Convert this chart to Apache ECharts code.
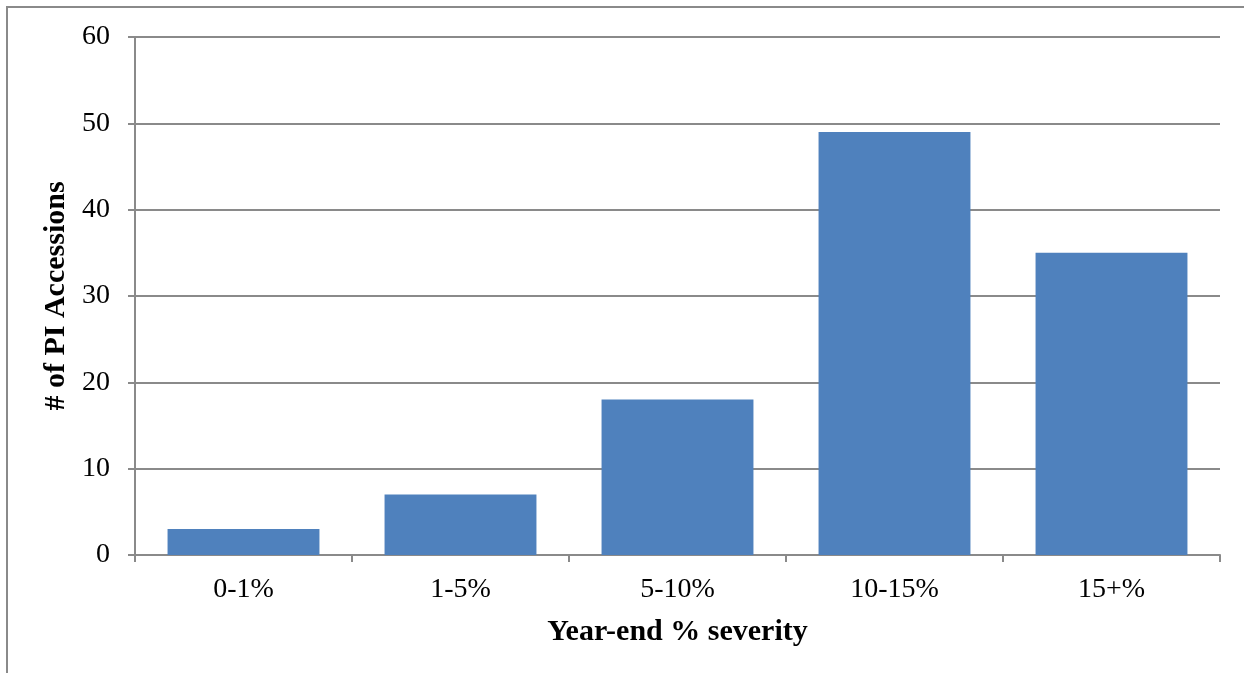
<!DOCTYPE html>
<html>
<head>
<meta charset="utf-8">
<script src="https://cdn.jsdelivr.net/npm/echarts@6/dist/echarts.min.js"></script>
<style>
  html, body { margin: 0; padding: 0; background: #fff; }
  #chart { width: 1244px; height: 673px; }
</style>
</head>
<body>
<div id="chart"></div>
<script>
// Severity classes and number of accessions in each
const categories = ['0-1%', '1-5%', '5-10%', '10-15%', '15+%'];
const accessions = [3, 7, 18, 49, 35];
const yTicks = { min: 0, max: 60, interval: 10 };

const lineGray = '#8a8a8a';
const serif = '"Liberation Serif", "Times New Roman", serif';

const chart = echarts.init(document.getElementById('chart'));
chart.setOption({
  animation: false,
  backgroundColor: '#fff',
  grid: { left: 135, right: 24, top: 37, bottom: 118 },
  graphic: [{
    type: 'polyline',
    shape: { points: [[7, 680], [7, 7], [1250, 7]] },
    style: { stroke: lineGray, lineWidth: 2, fill: null },
    z: 0
  }],
  xAxis: {
    type: 'category',
    data: categories,
    name: 'Year-end % severity',
    nameLocation: 'middle',
    nameGap: 62,
    nameTextStyle: { fontFamily: serif, fontSize: 30, fontWeight: 'bold', color: '#000' },
    axisLine: { show: true, lineStyle: { color: lineGray, width: 2 } },
    axisTick: { show: true, length: 7, alignWithLabel: false, lineStyle: { color: lineGray, width: 2 } },
    axisLabel: { fontFamily: serif, fontSize: 28, color: '#000', margin: 21 },
    splitLine: { show: false }
  },
  yAxis: {
    type: 'value',
    min: yTicks.min,
    max: yTicks.max,
    interval: yTicks.interval,
    name: '# of PI Accessions',
    nameLocation: 'middle',
    nameGap: 58,
    nameRotate: 90,
    nameTextStyle: { fontFamily: serif, fontSize: 30, fontWeight: 'bold', color: '#000' },
    axisLine: { show: true, lineStyle: { color: lineGray, width: 2 } },
    axisTick: { show: true, length: 7, lineStyle: { color: lineGray, width: 2 } },
    axisLabel: { fontFamily: serif, fontSize: 28, color: '#000', margin: 25 },
    splitLine: { show: true, lineStyle: { color: lineGray, width: 2 } }
  },
  series: [{
    type: 'bar',
    data: accessions,
    barCategoryGap: '30%',
    itemStyle: { color: '#4F81BD' }
  }]
});
</script>
</body>
</html>
